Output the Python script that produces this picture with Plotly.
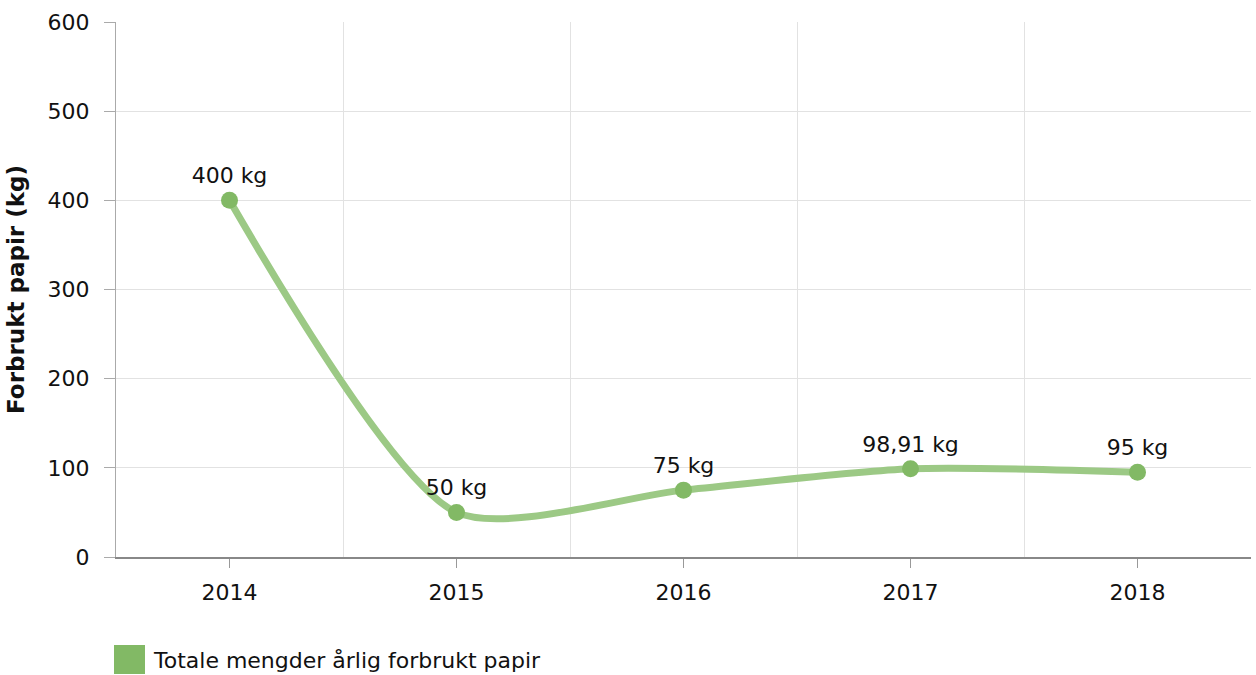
import plotly.graph_objects as go

years = ["2014", "2015", "2016", "2017", "2018"]
values = [400, 50, 75, 98.91, 95]
labels = ["400 kg", "50 kg", "75 kg", "98,91 kg", "95 kg"]
series_name = "Totale mengder årlig forbrukt papir"
y_ticks = [0, 100, 200, 300, 400, 500, 600]

FONT = "DejaVu Sans, Verdana, sans-serif"
LINE_C = "#9cc985"
MARK_C = "#82b965"
FS = 22

xs = list(range(len(years)))

fig = go.Figure()
fig.add_trace(go.Scatter(
    x=xs, y=values, mode="lines+markers+text",
    line=dict(color=LINE_C, width=7, shape="spline", smoothing=0.7),
    marker=dict(color=MARK_C, size=17),
    text=labels, textposition="top center",
    textfont=dict(family=FONT, size=FS, color="#111"),
    showlegend=False, cliponaxis=False,
))

fig.update_layout(
    width=1256, height=675,
    margin=dict(l=116, r=5, t=22, b=118),
    paper_bgcolor="white", plot_bgcolor="white",
    font=dict(family=FONT, size=FS, color="#111"),
    xaxis=dict(
        range=[-0.5, len(years) - 0.5],
        tickvals=xs, ticktext=years,
        showgrid=False, zeroline=False,
        showline=True, linecolor="#888", linewidth=2,
        ticks="outside", ticklen=9, tickcolor="#999", tickwidth=1,
        ticklabelstandoff=6,
        tickfont=dict(family=FONT, size=FS, color="#111"),
        minor=dict(tickvals=[i + 0.5 for i in xs], showgrid=True,
                   gridcolor="#e2e2e2", gridwidth=1, ticks=""),
    ),
    yaxis=dict(
        range=[0, 600], tickvals=y_ticks,
        showgrid=True, gridcolor="#e2e2e2", gridwidth=1,
        zeroline=False,
        showline=True, linecolor="#aaa", linewidth=1,
        ticks="outside", ticklen=11, tickcolor="#aaa",
        ticklabelstandoff=10,
        tickfont=dict(family=FONT, size=FS, color="#111"),
        title=dict(text="<b>Forbrukt papir (kg)</b>", standoff=16,
                   font=dict(family=FONT, size=23, color="#111")),
    ),
)

# legend swatch + label
fig.add_shape(type="rect", xref="paper", yref="paper",
              x0=(114 - 116) / 1135, x1=(145 - 116) / 1135,
              y0=(557 - 645) / 535, y1=(557 - 674) / 535,
              fillcolor=MARK_C, line=dict(width=0))
fig.add_annotation(xref="paper", yref="paper",
                   x=(151 - 116) / 1135, y=(557 - 660) / 535,
                   xanchor="left", yanchor="middle", showarrow=False,
                   text=series_name,
                   font=dict(family=FONT, size=FS, color="#111"))

fig.write_html(
    "out.html",
    config={"displayModeBar": False},
    post_script="document.body.style.margin='0';document.body.style.overflow='hidden';",
)
